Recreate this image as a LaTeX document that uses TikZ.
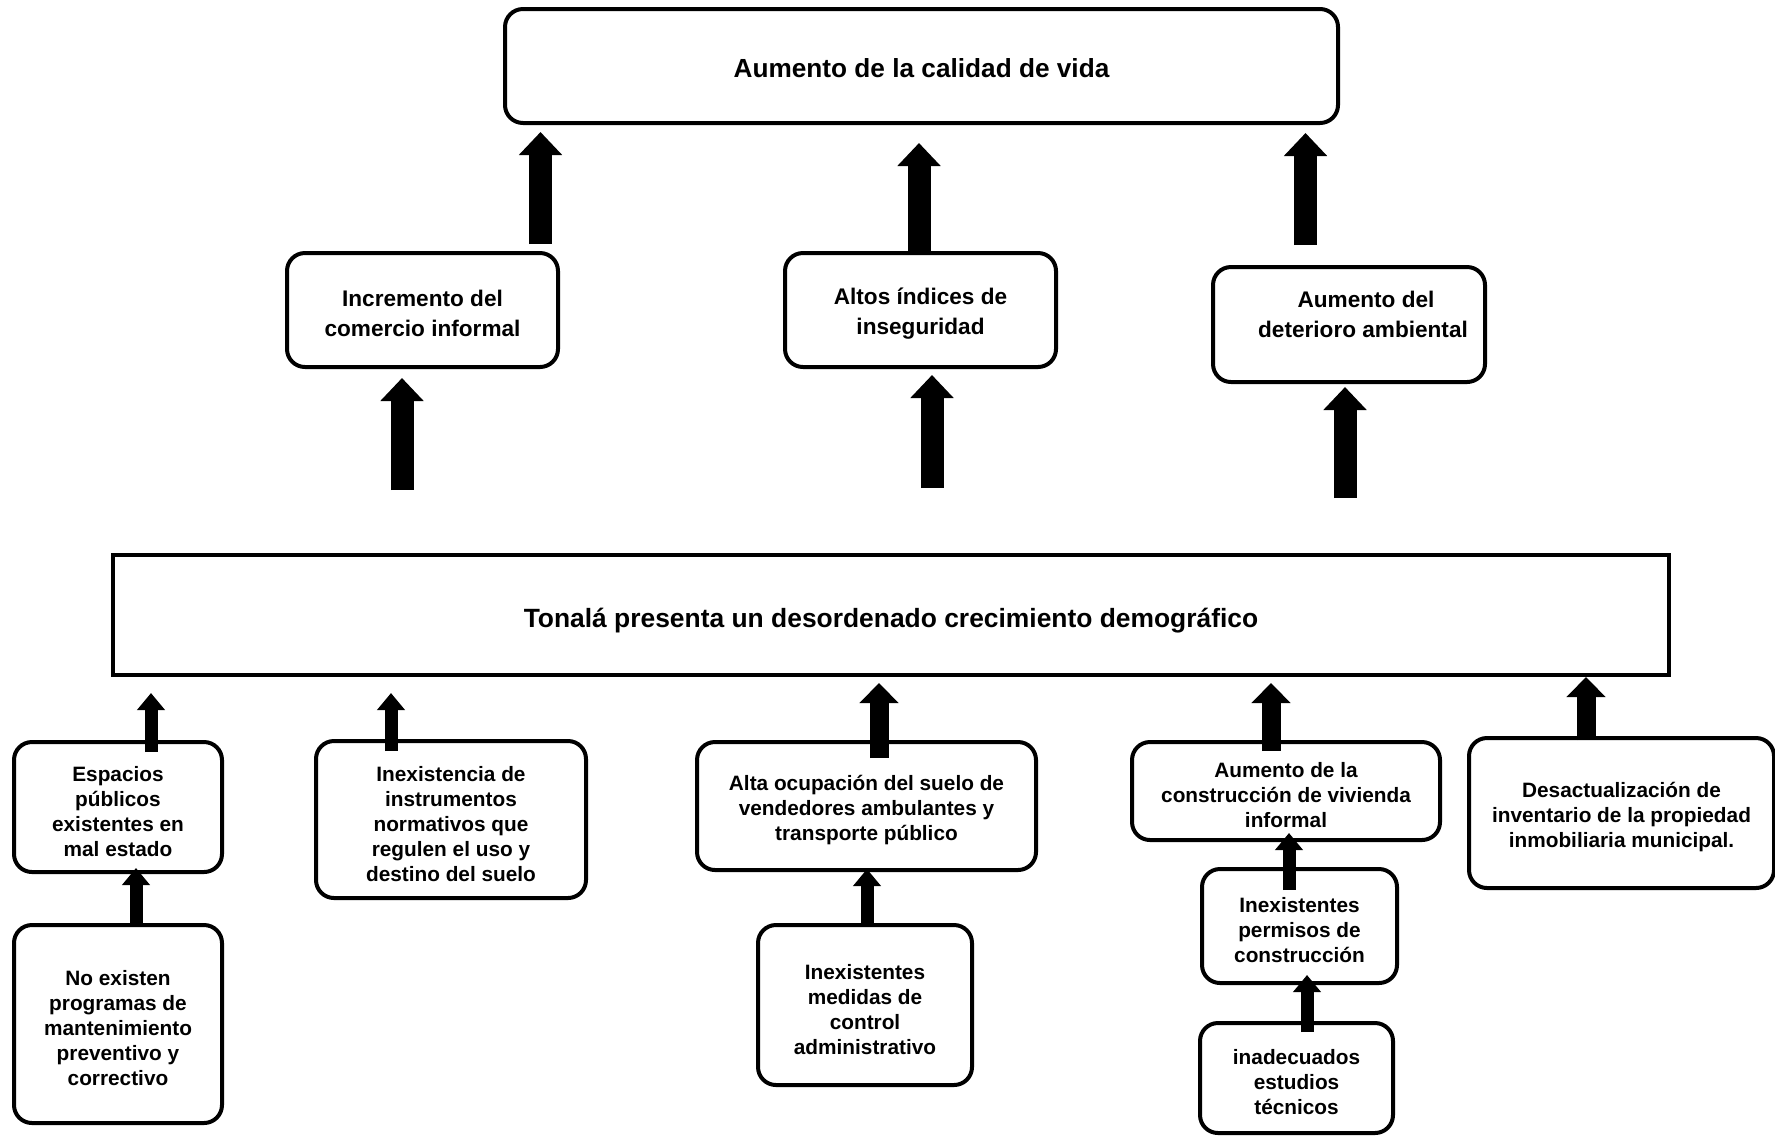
\documentclass[tikz,border=0pt]{standalone}
\usepackage{fontspec}
\setmainfont{Liberation Sans}
\usetikzlibrary{arrows.meta,calc}
\newcommand{\lift}[1][1.15em]{\rule{0pt}{#1}}

\begin{document}
\begin{tikzpicture}[x=0.5pt,y=-0.5pt,
  box/.style={draw,line width=2pt,rounded corners=9pt,fill=white,align=center,
    inner sep=0pt,outer sep=0pt,font=\bfseries\fontsize{10.4}{12.5}\selectfont},
  midbox/.style={box,font=\bfseries\fontsize{11.3}{14.8}\selectfont},
  bigarr/.style={line width=11.5pt,-{Triangle[width=21pt,length=11.5pt]}},
  midarr/.style={line width=9.5pt,-{Triangle[width=19pt,length=10pt]}},
  smallarr/.style={line width=6.5pt,-{Triangle[width=13.5pt,length=8.5pt]}}]
	\useasboundingbox (0,0) rectangle (1775,1137);
	% effects
	\node[box,font=\bfseries\fontsize{13.1}{15.6}\selectfont,minimum width=416.5pt,minimum height=57pt] (top) at (921.5,66) {\lift[0.9em]Aumento de la calidad de vida};
	\node[midbox,minimum width=135.5pt,minimum height=57pt] (incr) at (422.5,310) {\lift[1.05em]Incremento del\\comercio informal};
	\node[midbox,minimum width=135.5pt,minimum height=57pt] (altos) at (920.5,310) {\lift[1.05em]Altos índices de\\inseguridad};
	\node[midbox,minimum width=136pt,minimum height=57.5pt] (deter) at (1349,324.5) {\hspace*{17pt}Aumento del\\\hspace*{14pt}deterioro ambiental\rule[-10pt]{0pt}{10pt}};
	% problem
	\node[draw,line width=2pt,inner sep=0pt,outer sep=0pt,minimum width=778pt,minimum height=60pt,
	  font=\bfseries\fontsize{13.2}{15.8}\selectfont] (core) at (891,615) {\lift Tonalá presenta un desordenado crecimiento demográfico};
	% causes
	\node[box,minimum width=104pt,minimum height=65pt] (espac) at (118,807) {\lift Espacios\\públicos\\existentes en\\mal estado};
	\node[box,minimum width=135pt,minimum height=78.5pt] (inexi) at (451,819.5) {\lift Inexistencia de\\instrumentos\\normativos que\\regulen el uso y\\destino del suelo};
	\node[box,minimum width=169.5pt,minimum height=64pt] (alta) at (866.5,806) {\lift Alta ocupación del suelo de\\vendedores ambulantes y\\transporte público};
	\node[box,minimum width=154pt,minimum height=49pt] (vivi) at (1286,791) {\lift Aumento de la\\construcción de vivienda\\informal};
	\node[box,minimum width=152.5pt,minimum height=75pt] (desac) at (1621.5,813) {\lift Desactualización de\\inventario de la propiedad\\inmobiliaria municipal.};
	\node[box,minimum width=104pt,minimum height=99pt] (noexi) at (118,1024) {\lift No existen\\programas de\\mantenimiento\\preventivo y\\correctivo};
	\node[box,minimum width=107pt,minimum height=80pt] (medid) at (865,1005) {\lift Inexistentes\\medidas de\\control\\administrativo};
	\node[box,minimum width=97.5pt,minimum height=57pt] (permi) at (1299.5,926) {\lift Inexistentes\\permisos de\\construcción};
	\node[box,minimum width=96.5pt,minimum height=55pt] (estud) at (1296.5,1078) {\lift inadecuados\\estudios\\técnicos};
	% arrows
	\draw[bigarr] ($(incr.north)+(118,-9)$) -- ($(incr.north |- top.south)+(118,9)$);
	\draw[bigarr] ($(altos.north)+(-1.5,0)$) -- ($(altos.north |- top.south)+(-1.5,20)$);
	\draw[bigarr] ($(deter.north)+(-43.5,-22)$) -- ($(deter.north |- top.south)+(-43.5,10)$);
	\draw[bigarr] ($(incr.south |- core.north)+(-20.5,-65)$) -- ($(incr.south)+(-20.5,11)$);
	\draw[bigarr] ($(altos.south |- core.north)+(11.5,-67)$) -- ($(altos.south)+(11.5,8)$);
	\draw[bigarr] ($(deter.south |- core.north)+(-4,-57)$) -- ($(deter.south)+(-4,5)$);
	\draw[smallarr] ($(espac.north)+(33,10)$) -- ($(espac.north |- core.south)+(33,18)$);
	\draw[smallarr] ($(inexi.north)+(-60,10)$) -- ($(inexi.north |- core.south)+(-60,18)$);
	\draw[midarr] ($(alta.north)+(12.5,16)$) -- ($(alta.north |- core.south)+(12.5,8)$);
	\draw[midarr] ($(vivi.north)+(-15,9)$) -- ($(vivi.north |- core.south)+(-15,8)$);
	\draw[midarr] ($(desac.north)+(-35.5,2)$) -- ($(desac.north |- core.south)+(-35.5,2)$);
	\draw[smallarr] ($(noexi.north)+(18,0)$) -- ($(noexi.north |- espac.south)+(18,-4)$);
	\draw[smallarr] ($(medid.north)+(2,0)$) -- ($(medid.north |- alta.south)+(2,-1)$);
	\draw[smallarr] ($(permi.north)+(-10.5,21)$) -- ($(permi.north |- vivi.south)+(-10.5,-7)$);
	\draw[smallarr] ($(estud.north)+(10.5,9)$) -- ($(estud.north |- permi.south)+(10.5,-8)$);
\end{tikzpicture}
\end{document}
